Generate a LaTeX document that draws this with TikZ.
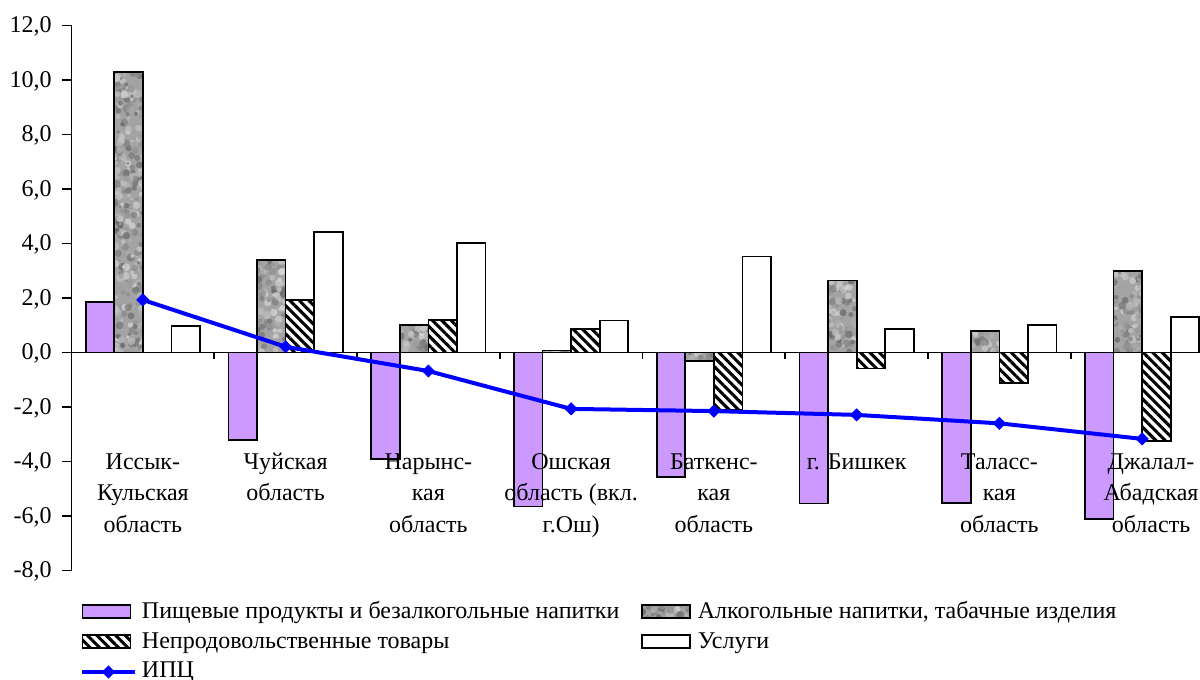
\documentclass[tikz,border=0pt]{standalone}
\usepackage{fontspec}
\setmainfont{Liberation Serif}
\usetikzlibrary{shapes.geometric,patterns.meta}
\definecolor{foodc}{HTML}{CC99FF}
\definecolor{cpic}{HTML}{0000FF}
\tikzset{
  barline/.style={draw=black,line width=1.3pt},
  foodbar/.style={barline,fill=foodc},
  hatchbar/.style={barline,preaction={fill=white},pattern={Lines[angle=-45,distance=5pt,line width=2.3pt]}},
  servbar/.style={barline,fill=white},
  axisline/.style={line width=1.4pt},
  cpiline/.style={draw=cpic,line width=3pt,line join=round},
  cpimark/.style={diamond,fill=cpic,inner sep=0pt,minimum size=10pt},
  lab/.style={font=\fontsize{18}{21}\selectfont,inner sep=0pt},
}
% granite texture box: x1 y1 x2 y2 number-of-dots
\newcommand\granitebox[5]{%
  \begin{scope}
    \clip (#1,#2) rectangle (#3,#4);
    \fill[black!36] (#1,#2) rectangle (#3,#4);
    \pgfmathtruncatemacro\gn{#5}
    \foreach \dd in {1,...,\gn}{
      \pgfmathsetmacro\gx{#1+rnd*(#3-#1)}
      \pgfmathsetmacro\gy{#2+rnd*(#4-#2)}
      \pgfmathtruncatemacro\gc{14+rnd*48}
      \pgfmathsetmacro\gr{1.3+rnd*1.8}
      \fill[black!\gc,opacity=0.7] (\gx,\gy) circle[radius=\gr pt];
    }
  \end{scope}
  \draw[barline] (#1,#2) rectangle (#3,#4);
}
\begin{document}
\begin{tikzpicture}[x=0.75pt,y=-0.75pt]
\pgfmathsetseed{4242}
\fill[white] (0,0) rectangle (1200,680);
\useasboundingbox (0,0) rectangle (1200,680);
\begin{scope}[shift={(0,352.5)},y=20.4375pt]
  \foreach \k/\vA/\vB/\vC/\vD/\vE in {0/1.86/10.3/0/0.97/1.93, 1/-3.21/3.39/1.93/4.43/0.21, 2/-3.9/1.02/1.18/4.03/-0.68, 3/-5.65/0.07/0.86/1.17/-2.07, 4/-4.57/-0.31/-2.12/3.52/-2.15, 5/-5.54/2.64/-0.59/0.86/-2.29, 6/-5.52/0.8/-1.13/1.01/-2.6, 7/-6.1/2.98/-3.25/1.29/-3.17}{
    \pgfmathsetmacro\xa{71.5+142.75*\k+14.275}
    \pgfmathsetmacro\xb{\xa+28.55}
    \pgfmathsetmacro\xc{\xb+28.55}
    \pgfmathsetmacro\xd{\xc+28.55}
    \pgfmathsetmacro\xe{\xd+28.55}
    \pgfmathsetmacro\xm{71.5+142.75*\k+71.375}
    \draw[foodbar] (\xa,0) rectangle (\xb,\vA);
    \granitebox{\xb}{0}{\xc}{\vB}{abs(\vB)*30+3}
    \ifdim\vC pt=0pt\relax\else
      \draw[hatchbar] (\xc,0) rectangle (\xd,\vC);
    \fi
    \draw[servbar] (\xd,0) rectangle (\xe,\vD);
    \coordinate (cpi\k) at (\xm,\vE);
  }
  \draw[axisline] (62,0) -- (1200,0);
  \draw[axisline] (71.5,-8) -- (71.5,12);
  \foreach \v/\t in {12/{12,0},10/{10,0},8/{8,0},6/{6,0},4/{4,0},2/{2,0},0/{0,0},-2/{-2,0},-4/{-4,0},-6/{-6,0},-8/{-8,0}}{
    \draw[axisline] (62,\v) -- (71.5,\v);
    \node[lab,anchor=base east] (t\v) at ([yshift=-5.4pt]52,\v) {\t};
  }
  \foreach \k in {1,...,8}{
    \draw[axisline] (71.5+142.75*\k,0) -- ++(0,-5.25pt);
  }
  \draw[cpiline] (cpi0) -- (cpi1) -- (cpi2) -- (cpi3) -- (cpi4) -- (cpi5) -- (cpi6) -- (cpi7);
  \foreach \k in {0,...,7}{
    \node[cpimark] (m\k) at (cpi\k) {};
  }
\end{scope}
% category labels
\foreach \nm/\cx/\la/\lb/\lc in {c1/142.9/{Иссык-}/{Кульская}/{область}, c2/285.6/{Чуйская}/{область}/{}, c3/428.4/{Нарынс-}/{кая}/{область}, c4/571.1/{Ошская}/{область (вкл.}/{г.Ош)}, c5/713.9/{Баткенс-}/{кая}/{область}, c6/856.6/{г. Бишкек}/{}/{}, c7/999.4/{Таласс-}/{кая}/{область}, c8/1151/{Джалал-}/{Абадская}/{область}}{
  \node[lab,anchor=base] (\nm a) at (\cx,469.3) {\la};
  \node[lab,anchor=base] (\nm b) at (\cx,500.8) {\lb};
  \node[lab,anchor=base] (\nm c) at (\cx,532.3) {\lc};
}
% legend
\draw[foodbar] (82.5,605) rectangle (130.5,618.3);
\node[lab,anchor=base west] (leg1) at (141.7,618.3) {Пищевые продукты и безалкогольные напитки};
\granitebox{642}{605}{690}{618.3}{40}
\node[lab,anchor=base west] (leg2) at (697.5,618.3) {Алкогольные напитки, табачные изделия};
\draw[hatchbar] (82.5,635) rectangle (130.5,648.3);
\node[lab,anchor=base west] (leg3) at (141.7,648) {Непродовольственные товары};
\draw[servbar] (642,635) rectangle (690,648.3);
\node[lab,anchor=base west] (leg4) at (697.5,648) {Услуги};
\coordinate (lga) at (82,672);
\coordinate (lgb) at (135,672);
\draw[cpiline] (lga) -- (lgb);
\node[cpimark] (lgm) at (108.5,672) {};
\node[lab,anchor=base west] (leg5) at (141.7,677) {ИПЦ};
\end{tikzpicture}
\end{document}
